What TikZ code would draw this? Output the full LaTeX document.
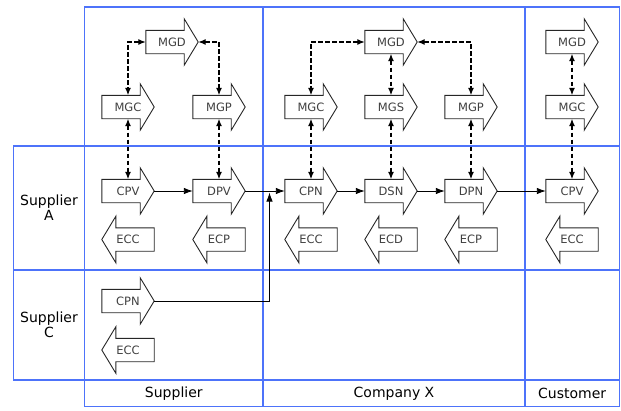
\documentclass[tikz,border=0pt]{standalone}
\usepackage{fontspec}
\setmainfont{DejaVu Sans}
\usetikzlibrary{arrows.meta}
\definecolor{gridblue}{RGB}{77,115,250}
\tikzset{
  grid/.style={draw=gridblue, line width=1.3pt},
  lane/.style={align=center, font=\fontsize{14}{15}\selectfont},
  rblock/.style={minimum width=52pt, minimum height=23pt, inner sep=0pt,
    text=black!75, font=\fontsize{11.5}{13}\selectfont,
    append after command={\pgfextra{\draw[black!85, line width=0.9pt]
      (\tikzlastnode.north west) -- ([xshift=-14pt]\tikzlastnode.north east)
      -- ++(0,11.5pt) -- (\tikzlastnode.east)
      -- ([xshift=-14pt,yshift=-11.5pt]\tikzlastnode.south east)
      -- ++(0,11.5pt) -- (\tikzlastnode.south west) -- cycle;}}},
  lblock/.style={minimum width=52pt, minimum height=23pt, inner sep=0pt,
    text=black!75, font=\fontsize{11.5}{13}\selectfont,
    append after command={\pgfextra{\draw[black!85, line width=0.9pt]
      (\tikzlastnode.north east) -- ([xshift=14pt]\tikzlastnode.north west)
      -- ++(0,11.5pt) -- (\tikzlastnode.west)
      -- ([xshift=14pt,yshift=-11.5pt]\tikzlastnode.south west)
      -- ++(0,11.5pt) -- (\tikzlastnode.south east) -- cycle;}}},
  flow/.style={-{Latex[length=9pt,width=6.5pt]}, line width=0.9pt},
  mgmt/.style={{Latex[length=7.5pt,width=6pt]}-{Latex[length=7.5pt,width=6pt]},
    line width=1.3pt, dash pattern=on 4.5pt off 2.5pt}
}
\begin{document}
\begin{tikzpicture}[x=1pt,y=-1pt]
\useasboundingbox (0,0) rectangle (621,410);
% lanes
\draw[grid] (84.5,7) rectangle (619.5,406.7);
\draw[grid] (13.3,146) rectangle (619.5,270);
\draw[grid] (13.3,270) rectangle (619.5,380);
\foreach \x in {263,525} \draw[grid] (\x,7) -- (\x,406.7);
\node[lane] (supA) at (49,208) {Supplier\\A};
\node[lane] (supC) at (49,325) {Supplier\\C};
\node[lane] (colS) at (173.8,393.5) {Supplier};
\node[lane] (colX) at (394,393.5) {Company X};
\node[lane] (colC) at (572.2,393.5) {Customer};
% supplier
\node[rblock] (mgdS) at (172,42) {MGD};
\node[rblock] (mgcS) at (128,107) {MGC};
\node[rblock] (mgpS) at (219,107) {MGP};
\node[rblock] (cpvS) at (128,191) {CPV};
\node[rblock] (dpvS) at (219,191) {DPV};
\node[lblock] (eccS) at (128,239.5) {ECC};
\node[lblock] (ecpS) at (219,239.5) {ECP};
\node[rblock] (cpnR) at (128,301) {CPN};
\node[lblock] (eccR) at (128,350) {ECC};
% company x
\node[rblock] (mgdX) at (391,42) {MGD};
\node[rblock] (mgcX) at (311,107) {MGC};
\node[rblock] (mgsX) at (391,107) {MGS};
\node[rblock] (mgpX) at (471,107) {MGP};
\node[rblock] (cpnX) at (311,191) {CPN};
\node[rblock] (dsnX) at (391,191) {DSN};
\node[rblock] (dpnX) at (471,191) {DPN};
\node[lblock] (eccX) at (311,239.5) {ECC};
\node[lblock] (ecdX) at (391,239.5) {ECD};
\node[lblock] (ecpX) at (471,239.5) {ECP};
% customer
\node[rblock] (mgdC) at (572,42) {MGD};
\node[rblock] (mgcC) at (572,107) {MGC};
\node[rblock] (cpvC) at (572,191) {CPV};
\node[lblock] (eccC) at (572,239.5) {ECC};
% management links
\draw[mgmt] (mgdS.west) -| (mgcS.north);
\draw[mgmt] (mgdS.east) -| (mgpS.north);
\draw[mgmt] (mgcS.south) -- (cpvS.north);
\draw[mgmt] (mgpS.south) -- (dpvS.north);
\draw[mgmt] (mgdX.west) -| (mgcX.north);
\draw[mgmt] (mgdX.east) -| (mgpX.north);
\draw[mgmt] (mgdX.south) -- (mgsX.north);
\draw[mgmt] (mgcX.south) -- (cpnX.north);
\draw[mgmt] (mgsX.south) -- (dsnX.north);
\draw[mgmt] (mgpX.south) -- (dpnX.north);
\draw[mgmt] (mgdC.south) -- (mgcC.north);
\draw[mgmt] (mgcC.south) -- (cpvC.north);
% material flow
\coordinate (join) at (269.5,192.5);
\draw[flow] (cpvS.east) -- (dpvS.west);
\draw[flow] (dpvS.east) -- (cpnX.west);
\draw[flow] (cpnX.east) -- (dsnX.west);
\draw[flow] (dsnX.east) -- (dpnX.west);
\draw[flow] (dpnX.east) -- (cpvC.west);
\draw[flow] (cpnR.east) -| (join);
\end{tikzpicture}
\end{document}
